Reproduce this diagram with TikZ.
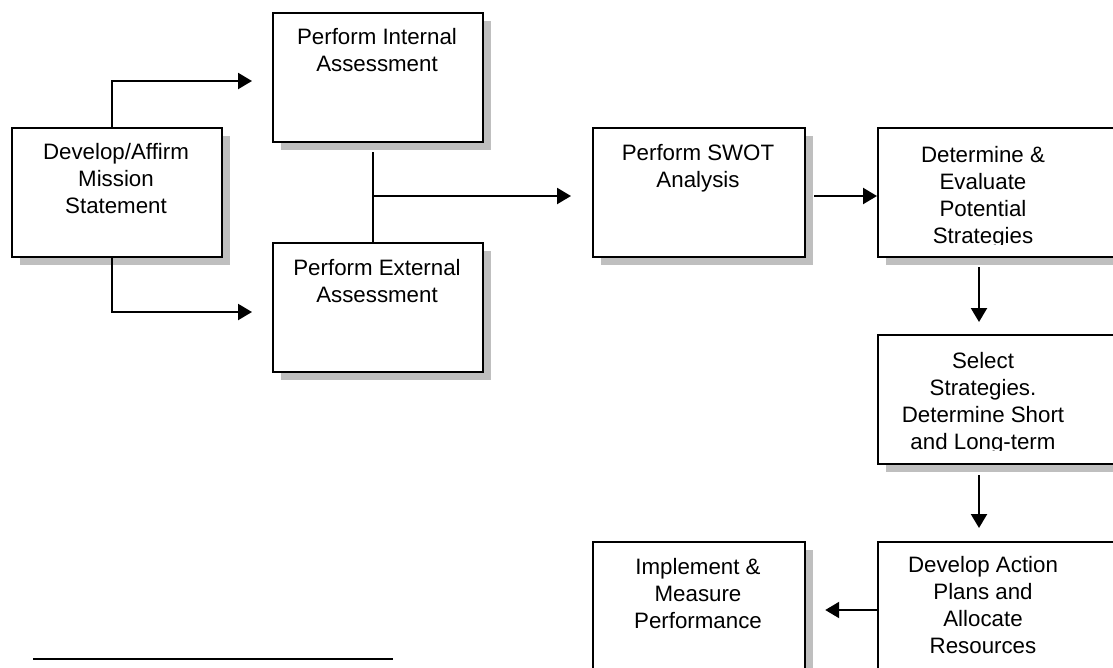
\documentclass[tikz,border=0pt]{standalone}
\usepackage{fontspec}
\setmainfont{Liberation Sans}
\usetikzlibrary{arrows.meta,shadows,calc}
\tikzset{
  stepbox/.style={draw=black, line width=2.2pt, fill=white, rectangle,
    inner sep=0pt, anchor=north west,
    drop shadow={shadow xshift=7.5pt, shadow yshift=-7.5pt, fill=black!25, opacity=1}},
  wide/.style={minimum width=210pt, minimum height=129pt},
  boxtext/.style={anchor=base, align=center, inner sep=0pt,
    font=\fontsize{22.3pt}{27pt}\selectfont},
  flow/.style={line width=2.2pt, -{Triangle[length=14pt,width=16pt]}},
  link/.style={line width=2.2pt},
}
\begin{document}
\begin{tikzpicture}[x=1pt,y=-1pt]
\useasboundingbox (0,0) rectangle (1113,667);
\clip (0,0) rectangle (1113,667);

% boxes
\node[stepbox, wide] (mis) at (11,127) {};
\node[stepbox, wide] (int) at (272,12) {};
\node[stepbox, wide] (ext) at (272,242) {};
\node[stepbox, minimum width=212pt, minimum height=129pt] (swot) at (592,127) {};
\node[stepbox, minimum width=253pt, minimum height=129pt] (det) at (877,127) {};
\node[stepbox, minimum width=253pt, minimum height=129pt] (sel) at (877,334) {};
\node[stepbox, minimum width=253pt, minimum height=170pt] (dev) at (877,541) {};
\node[stepbox, minimum width=212pt, minimum height=170pt] (imp) at (592,541) {};

% box texts (placed by the baseline of their last line)
\node[boxtext] (mis-t) at (116,213) {Develop/Affirm\\Mission\\Statement};
\node[boxtext] (int-t) at (377,71) {Perform Internal\\Assessment};
\node[boxtext] (ext-t) at (377,302) {Perform External\\Assessment};
\node[boxtext] (swot-t) at (698,187) {Perform SWOT\\Analysis};
\begin{scope}
  \clip (877,127) rectangle (1113,244);
  \node[boxtext] (det-t) at (983,243) {Determine \&\\Evaluate\\Potential\\Strategies};
\end{scope}
\begin{scope}
  \clip (877,334) rectangle (1113,450.5);
  \node[boxtext] (sel-t) at (983,449) {Select\\Strategies.\\Determine Short\\and Long-term};
\end{scope}
\node[boxtext] (dev-t) at (983,653) {Develop Action\\Plans and\\Allocate\\Resources};
\node[boxtext] (imp-t) at (698,628) {Implement \&\\Measure\\Performance};

% connector anchors
\coordinate (misx) at (112,0);
\coordinate (intIn) at (252,81);
\coordinate (extIn) at (252,312);
\coordinate (jn) at (373,196);
\coordinate (swotIn) at (571,196);
\coordinate (colx) at (979,0);
\coordinate (rowy) at (0,610);

% connectors
\draw[flow] (mis.north -| misx) |- (intIn);
\draw[flow] (mis.south -| misx) |- (extIn);
\draw[link] ($(int.south -| jn)+(0,9)$) -- (ext.north -| jn);
\draw[flow] (jn) -- (swotIn);
\draw[flow] ($(swot.east |- jn)+(8,0)$) -- (det.west |- jn);
\draw[flow] ($(det.south -| colx)+(0,9)$) -- ($(sel.north -| colx)+(0,-12)$);
\draw[flow] ($(sel.south -| colx)+(0,10)$) -- ($(dev.north -| colx)+(0,-13)$);
\draw[flow] (dev.west |- rowy) -- ($(imp.east |- rowy)+(19,0)$);

% rule at the foot
\coordinate (ruleA) at (33,659);
\coordinate (ruleB) at (393,659);
\draw[link] (ruleA) -- (ruleB);
\end{tikzpicture}
\end{document}
